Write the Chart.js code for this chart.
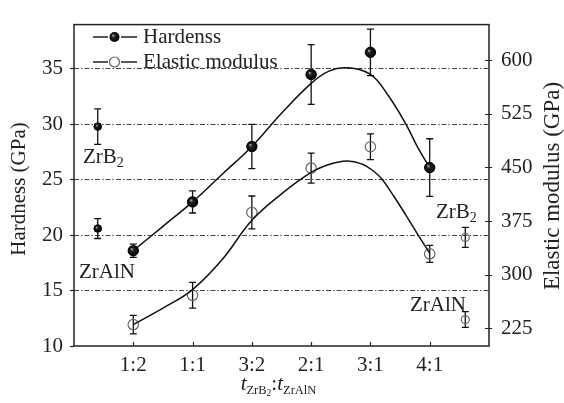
<!DOCTYPE html>
<html>
<head>
<meta charset="utf-8">
<script src="https://cdn.jsdelivr.net/npm/chart.js@4.4.1/dist/chart.umd.min.js"></script>
<style>
	html, body {margin: 0; padding: 0; background: #fff;}
	#wrap {width: 564px; height: 403px;}
</style>
</head>
<body>
<div id="wrap"><canvas id="chart" width="564" height="403"></canvas></div>
<script>
// Ratio of layer thickness tZrB2:tZrAlN
var ratioLabels = ['1:2', '1:1', '3:2', '2:1', '3:1', '4:1'];
var ratioPos    = [1, 2, 3, 4, 5, 6];

// Measured multilayer values (GPa) with error bars
var hardness    = [18.6, 23.0, 28.0, 34.5, 36.5, 26.1];
var hardnessErr = [0.6, 1.0, 2.0, 2.7, 2.1, 2.6];
var modulus     = [230, 271, 387, 449, 479, 329];
var modulusErr  = [13, 18, 23, 21, 18, 12];

// Single layer films: ZrB2, ZrAlN
var singleHardness    = [29.8, 20.6];
var singleHardnessErr = [1.6, 0.9];
var singleModulus     = [352, 237];
var singleModulusErr  = [14, 11];
var singleHardnessPos = 0.4;
var singleModulusPos  = 6.6;

// Trend curves
var hardFitX = [1, 1.5, 2, 2.5, 3, 3.5, 4, 4.3, 4.6, 5, 5.3, 5.6, 5.8, 6];
var hardFitY = [18.6, 20.8, 23.0, 25.5, 28.0, 31.0, 33.7, 34.8, 35.1, 34.5, 32.6, 30.0, 27.9, 26.1];
var modFitX  = [1, 1.5, 2, 2.5, 3, 3.5, 4, 4.3, 4.6, 4.85, 5.05, 5.2, 5.4, 5.6, 5.8, 6];
var modFitY  = [230, 253, 279, 321, 376, 413, 443, 454, 459, 455, 445, 433, 409, 383, 356, 330];

// Axis ticks
var hardTicks = [10, 15, 20, 25, 30, 35];
var modTicks  = [225, 300, 375, 450, 525, 600];

var FONT = '"Liberation Serif", "Times New Roman", serif';
var INK  = '#222';

function pairs(xs, ys) {
	var out = [];
	for (var i = 0; i < xs.length; i++) {out.push({x: xs[i], y: ys[i]});}
	return out;
}

var hardPoints = pairs(ratioPos, hardness).concat(pairs([singleHardnessPos, singleHardnessPos], singleHardness));
var hardErrors = hardnessErr.concat(singleHardnessErr);
var modPoints  = pairs(ratioPos, modulus).concat(pairs([singleModulusPos, singleModulusPos], singleModulus));
var modErrors  = modulusErr.concat(singleModulusErr);

// draws text made of parts (subscripts, italics), returns width
function chemText(ctx, parts, x, y, draw) {
	var cx = x;
	for (var i = 0; i < parts.length; i++) {
		var p = parts[i];
		ctx.font = (p.italic ? 'italic ' : '') + p.size + 'px ' + FONT;
		if (draw) {ctx.fillText(p.t, cx, y + (p.dy || 0));}
		cx += ctx.measureText(p.t).width;
	}
	return cx - x;
}

// shaded black ball like the original markers
function ball(ctx, x, y, r) {
	var g = ctx.createRadialGradient(x - r * 0.35, y - r * 0.35, 0, x, y, r);
	g.addColorStop(0, '#bbb');
	g.addColorStop(0.35, '#222');
	g.addColorStop(1, '#000');
	ctx.beginPath();
	ctx.arc(x, y, r, 0, Math.PI * 2);
	ctx.fillStyle = g;
	ctx.fill();
}

var decorPlugin = {
	id: 'decor',
	beforeDatasetsDraw: function(chart) {
		var ctx = chart.ctx;
		ctx.save();
		ctx.strokeStyle = '#111';
		ctx.lineWidth = 1.3;
		[2, 3].forEach(function(di) {
			var ds    = chart.data.datasets[di];
			var meta  = chart.getDatasetMeta(di);
			var scale = chart.scales[ds.yAxisID];
			meta.data.forEach(function(pt, i) {
				var v  = ds.data[i].y, e = ds.errors[i];
				var y1 = scale.getPixelForValue(v + e), y2 = scale.getPixelForValue(v - e);
				ctx.beginPath();
				ctx.moveTo(pt.x, y1); ctx.lineTo(pt.x, y2);
				ctx.moveTo(pt.x - 3.5, y1); ctx.lineTo(pt.x + 3.5, y1);
				ctx.moveTo(pt.x - 3.5, y2); ctx.lineTo(pt.x + 3.5, y2);
				ctx.stroke();
			});
		});
		ctx.restore();
	},
	afterDatasetsDraw: function(chart) {
		var ctx = chart.ctx;
		var meta = chart.getDatasetMeta(2);
		ctx.save();
		meta.data.forEach(function(pt, i) {ball(ctx, pt.x, pt.y, i > 5 ? 3.8 : 5.2);});
		ctx.restore();
	},
	afterDraw: function(chart) {
		var ctx = chart.ctx, a = chart.chartArea;
		var xs = chart.scales.x, ys2 = chart.scales.y2;
		ctx.save();

		// frame
		ctx.strokeStyle = INK;
		ctx.lineWidth = 1.5;
		ctx.strokeRect(a.left, a.top, a.right - a.left, a.bottom - a.top);

		// inward ticks on bottom axis, crossing ticks on right axis
		ctx.lineWidth = 1.2;
		ctx.beginPath();
		ratioPos.forEach(function(p) {
			var px = Math.round(xs.getPixelForValue(p)) + 0.5;
			ctx.moveTo(px, a.bottom); ctx.lineTo(px, a.bottom - 4);
		});
		modTicks.forEach(function(v) {
			var py = Math.round(ys2.getPixelForValue(v)) + 0.5;
			ctx.moveTo(a.right - 4, py); ctx.lineTo(a.right + 3, py);
		});
		ctx.stroke();

		// legend
		ctx.textBaseline = 'middle';
		[[37, true, 'Hardenss'], [62, false, 'Elastic modulus']].forEach(function(row) {
			var y = row[0];
			ctx.strokeStyle = INK;
			ctx.lineWidth = 1.3;
			ctx.beginPath();
			ctx.moveTo(93, y); ctx.lineTo(108, y);
			ctx.moveTo(121, y); ctx.lineTo(137, y);
			ctx.stroke();
			if (row[1]) {ball(ctx, 114.5, y, 5);}
			else {
				ctx.beginPath();
				ctx.arc(114.5, y, 5, 0, Math.PI * 2);
				ctx.strokeStyle = '#666'; ctx.lineWidth = 1.2; ctx.stroke();
			}
			ctx.fillStyle = INK;
			ctx.font = '21px ' + FONT;
			ctx.fillText(row[2], 143, y);
		});

		// single layer labels
		ctx.fillStyle = INK;
		ctx.textBaseline = 'alphabetic';
		var zrb2  = [{t: 'ZrB', size: 21}, {t: '2', size: 14, dy: 4}];
		var zraln = [{t: 'ZrAlN', size: 21}];
		chemText(ctx, zrb2, 83, 163, true);
		chemText(ctx, zraln, 79, 278, true);
		chemText(ctx, zrb2, 436, 218, true);
		chemText(ctx, zraln, 410, 311, true);

		// x axis title
		var xt = [
			{t: 't', size: 21, italic: true}, {t: 'ZrB', size: 12.5, dy: 4}, {t: '2', size: 9.5, dy: 6},
			{t: ':', size: 21}, {t: 't', size: 21, italic: true}, {t: 'ZrAlN', size: 12.5, dy: 4}
		];
		var w = chemText(ctx, xt, 0, 0, false);
		chemText(ctx, xt, (a.left + a.right) / 2 - w / 2 - 3, 390, true);

		// y axis titles
		ctx.textAlign = 'center';
		ctx.textBaseline = 'middle';
		ctx.save();
		ctx.font = '21px ' + FONT;
		ctx.translate(19, 189);
		ctx.rotate(-Math.PI / 2);
		ctx.fillText('Hardness (GPa)', 0, 0);
		ctx.restore();
		ctx.save();
		ctx.font = '23px ' + FONT;
		ctx.translate(553, 186);
		ctx.rotate(-Math.PI / 2);
		ctx.fillText('Elastic modulus (GPa)', 0, 0);
		ctx.restore();

		ctx.restore();
	}
};

var tickFont = {family: FONT, size: 21};

new Chart(document.getElementById('chart').getContext('2d'), {
	type: 'scatter',
	data: {
		datasets: [
			{label: 'Hardness fit', data: pairs(hardFitX, hardFitY), yAxisID: 'y', showLine: true,
			 borderColor: '#111', borderWidth: 1.5, pointRadius: 0, tension: 0.4},
			{label: 'Modulus fit', data: pairs(modFitX, modFitY), yAxisID: 'y2', showLine: true,
			 borderColor: '#111', borderWidth: 1.5, pointRadius: 0, tension: 0.4},
			{label: 'Hardenss', data: hardPoints, errors: hardErrors, yAxisID: 'y',
			 backgroundColor: '#111', borderColor: '#111', borderWidth: 1,
			 pointRadius: function(c) {return c.dataIndex > 5 ? 3.8 : 5.2;}},
			{label: 'Elastic modulus', data: modPoints, errors: modErrors, yAxisID: 'y2',
			 backgroundColor: 'rgba(0,0,0,0)', borderColor: '#666', borderWidth: 1.2,
			 pointRadius: function(c) {return c.dataIndex > 5 ? 4 : 5.2;}}
		]
	},
	options: {
		responsive: false,
		animation: false,
		layout: {padding: {top: 14, left: 0, right: 0, bottom: 0}},
		plugins: {legend: {display: false}, tooltip: {enabled: false}},
		scales: {
			x: {
				type: 'linear', min: 0, max: 7,
				afterBuildTicks: function(s) {s.ticks = ratioPos.map(function(v) {return {value: v};});},
				afterFit: function(s) {s.height = 57;},
				grid: {display: false, drawTicks: false},
				border: {display: false},
				ticks: {font: tickFont, color: INK, padding: 7, maxRotation: 0,
					callback: function(v) {return ratioLabels[ratioPos.indexOf(v)];}}
			},
			y: {
				position: 'left', min: 10, max: 39,
				afterBuildTicks: function(s) {s.ticks = hardTicks.map(function(v) {return {value: v};});},
				afterFit: function(s) {s.width = 74;},
				grid: {
					color: function(c) {return c.tick && c.tick.value === 10 ? 'rgba(0,0,0,0)' : '#444';},
					lineWidth: 1, tickLength: 4, tickColor: INK, tickWidth: 1.2
				},
				border: {display: false, dash: [5, 2, 1.5, 2]},
				ticks: {font: tickFont, color: INK, padding: 7}
			},
			y2: {
				position: 'right', min: 200, max: 650,
				afterBuildTicks: function(s) {s.ticks = modTicks.map(function(v) {return {value: v};});},
				afterFit: function(s) {s.width = 75;},
				grid: {drawOnChartArea: false, drawTicks: false},
				border: {display: false},
				ticks: {font: tickFont, color: INK, padding: 12}
			}
		}
	},
	plugins: [decorPlugin]
});
</script>
</body>
</html>
